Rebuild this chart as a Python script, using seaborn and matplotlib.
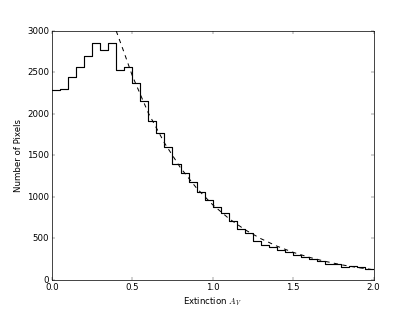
import numpy as np
import matplotlib
matplotlib.use('Agg')
import matplotlib.pyplot as plt
import seaborn as sns

# histogram counts per bin of width 0.05, from 0.0 to 2.0
bin_edges = [round(0.05 * i, 2) for i in range(41)]
counts = [2290, 2305, 2445, 2565, 2695, 2855, 2770, 2850, 2530, 2560,
          2370, 2150, 1920, 1768, 1606, 1394, 1286, 1185, 1057, 964,
          876, 804, 712, 611, 570, 474, 422, 394, 360, 341,
          301, 273, 253, 233, 193, 189, 160, 173, 153, 129]

# dashed fit curve
fit_x = [0.40, 0.45, 0.50, 0.60, 0.70, 0.80, 0.90, 1.00, 1.10, 1.20,
         1.30, 1.40, 1.50, 1.60, 1.70, 1.80, 1.90, 2.00]
fit_y = [3000, 2735, 2460, 2010, 1650, 1350, 1105, 905, 740, 605,
         496, 406, 332, 272, 223, 182, 149, 122]

plt.style.use('classic')
plt.rcParams['figure.facecolor'] = 'white'
plt.rcParams['savefig.facecolor'] = 'white'

fig, ax = plt.subplots(figsize=(8, 6), dpi=51.875)

centers = [(bin_edges[i] + bin_edges[i + 1]) / 2 for i in range(len(counts))]
sns.histplot(x=centers, weights=counts, bins=bin_edges, element='step',
             fill=False, color='k', linewidth=1.6, ax=ax)
sns.lineplot(x=fit_x, y=fit_y, color='k', linestyle='--', linewidth=1.4,
             ax=ax)

ax.set_xlim(0, 2.0)
ax.set_ylim(0, 3000)
ax.set_xticks([0.0, 0.5, 1.0, 1.5, 2.0])
ax.set_yticks(range(0, 3001, 500))
ax.set_xlabel('Extinction $A_V$')
ax.set_ylabel('Number of Pixels')

fig.savefig('out.png', dpi=51.875)
